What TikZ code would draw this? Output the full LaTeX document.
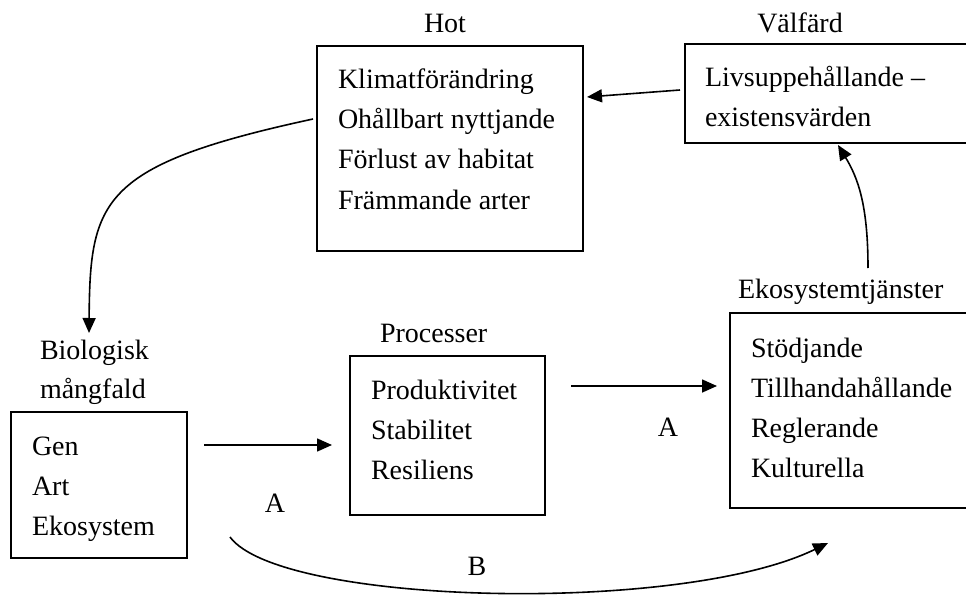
\documentclass[tikz,border=0pt]{standalone}
\usepackage{fontspec}
\setmainfont{Liberation Serif}
\usetikzlibrary{arrows.meta}
\begin{document}
\begin{tikzpicture}[x=1pt,y=-1pt,
  every node/.style={font=\fontsize{28}{40}\selectfont, inner sep=0pt, outer sep=0pt},
  box/.style={draw, line width=1.6pt, anchor=north west},
  txt/.style={anchor=base west},
  ttl/.style={anchor=base},
  conn/.style={line width=1.6pt, -{Triangle[length=15pt,width=13pt]}}]
\useasboundingbox (0,0) rectangle (966,596);
\clip (0,0) rectangle (966,596);
% boxes
\node[box, minimum width=266pt, minimum height=205pt] (hot) at (317,46) {};
\node[box, minimum width=290pt, minimum height=99pt] (valf) at (685,44) {};
\node[box, minimum width=176pt, minimum height=146pt] (bio) at (11,412) {};
\node[box, minimum width=195pt, minimum height=159pt] (proc) at (350,356) {};
\node[box, minimum width=245pt, minimum height=195pt] (eko) at (730,313) {};
% titles
\node[ttl] (thot) at (445,33) {Hot};
\node[ttl] (tvalf) at (800,33) {Välfärd};
\node[txt] (tbio1) at (40,359) {Biologisk};
\node[txt] (tbio2) at (40,398) {mångfald};
\node[txt] (tproc) at (380,342) {Processer};
\node[txt] (teko) at (738,298) {Ekosystemtjänster};
% contents
\node[txt] (h1) at (338,89) {Klimatförändring};
\node[txt] (h2) at (338,129) {Ohållbart nyttjande};
\node[txt] (h3) at (338,169) {Förlust av habitat};
\node[txt] (h4) at (338,209) {Främmande arter};
\node[txt] (v1) at (705,87) {Livsuppehållande –};
\node[txt] (v2) at (705,127) {existensvärden};
\node[txt] (b1) at (32,455) {Gen};
\node[txt] (b2) at (32,495) {Art};
\node[txt] (b3) at (32,535) {Ekosystem};
\node[txt] (p1) at (371,399) {Produktivitet};
\node[txt] (p2) at (371,439) {Stabilitet};
\node[txt] (p3) at (371,479) {Resiliens};
\node[txt] (e1) at (751,357) {Stödjande};
\node[txt] (e2) at (751,397) {Tillhandahållande};
\node[txt] (e3) at (751,437) {Reglerande};
\node[txt] (e4) at (751,477) {Kulturella};
% connector labels
\node[ttl] (la1) at (275,512) {A};
\node[ttl] (la2) at (668,436) {A};
\node[ttl] (lb) at (477,575) {B};
% connector end points
\coordinate (c1s) at (680,90);
\coordinate (c1e) at (587,97);
\coordinate (c2s) at (868,268);
\coordinate (c2e) at (838,145);
\coordinate (c3s) at (313,119);
\coordinate (c3e) at (89,333);
\coordinate (c4s) at (204,445);
\coordinate (c4e) at (332,445);
\coordinate (c5s) at (571,386);
\coordinate (c5e) at (717,386);
\coordinate (c6s) at (230,537);
\coordinate (c6e) at (828,543);
% connectors
\draw[conn] (c1s) -- (c1e);
\draw[conn] (c2s) .. controls (868,205) and (858,178) .. (c2e);
\draw[conn] (c3s) .. controls (100,165) and (90,200) .. (c3e);
\draw[conn] (c4s) -- (c4e);
\draw[conn] (c5s) -- (c5e);
\draw[conn] (c6s) .. controls (280,605) and (680,615) .. (c6e);
\end{tikzpicture}
\end{document}
